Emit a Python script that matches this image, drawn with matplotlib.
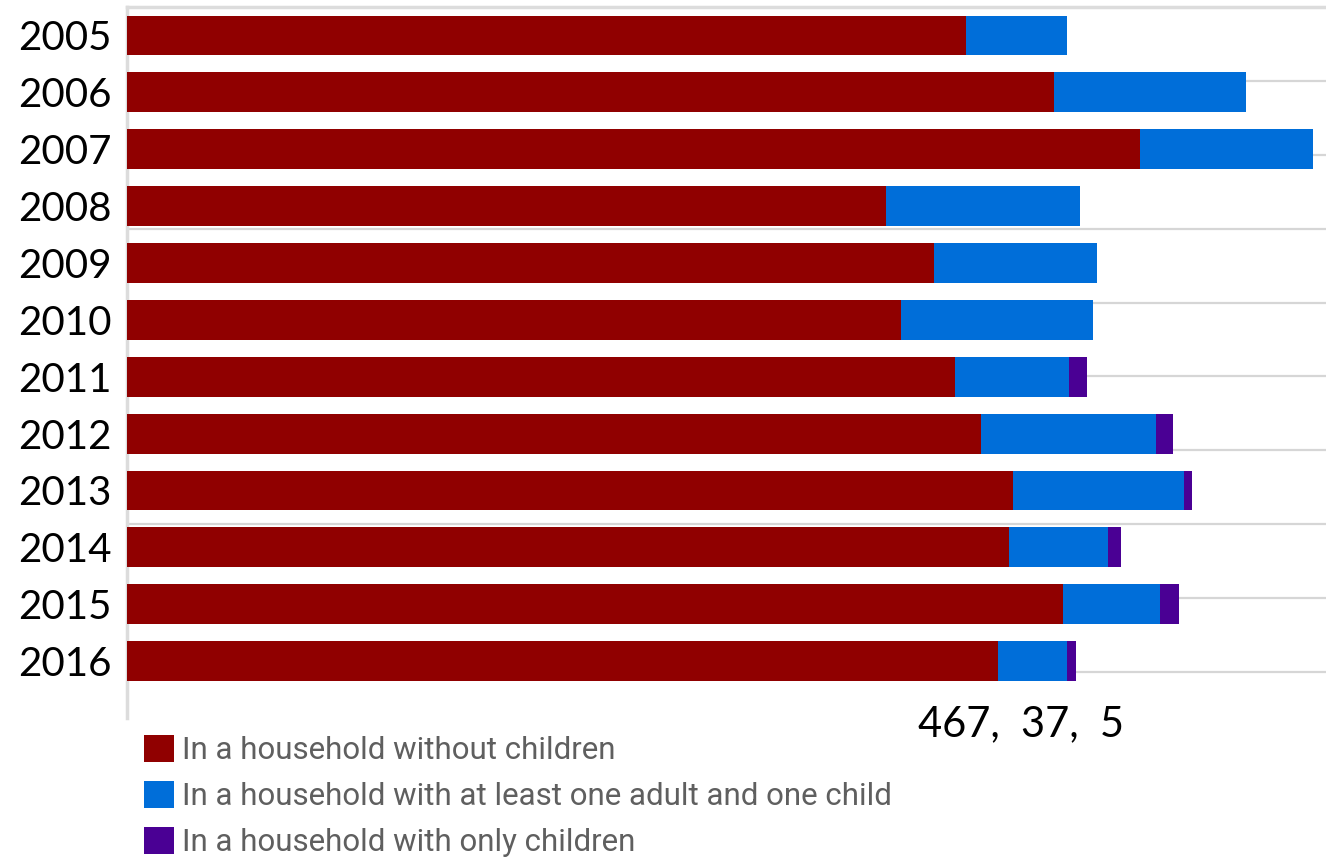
#!/usr/bin/env python3
"""Stacked horizontal bars: people by household type, 2005-2016."""

import matplotlib
matplotlib.use("Agg")
import matplotlib.pyplot as plt
import numpy as np

# ---------------------------------------------------------------------------
# Data
# ---------------------------------------------------------------------------

YEARS = ["2005", "2006", "2007", "2008", "2009", "2010",
         "2011", "2012", "2013", "2014", "2015", "2016"]

NO_CHILDREN = [450, 497, 543, 407, 433, 415, 444, 458, 475, 473, 502, 467]
ADULT_AND_CHILD = [54, 103, 93, 104, 87, 103, 61, 94, 92, 53, 52, 37]
ONLY_CHILDREN = [0, 0, 0, 0, 0, 0, 10, 9, 4, 7, 10, 5]

SERIES_LABELS = [
    "In a household without children",
    "In a household with at least one adult and one child",
    "In a household with only children",
]

COLORS = ["#900000", "#006ED9", "#4A0094"]

# ---------------------------------------------------------------------------
# Plot
# ---------------------------------------------------------------------------

fig = plt.figure(figsize=(13.26, 8.57), dpi=100)
ax = fig.add_axes([127 / 1326, 1 - 718 / 857, 1 - 127 / 1326, (718 - 7) / 857])

y = np.arange(len(YEARS))
left = np.zeros(len(YEARS))
handles = []
for vals, color, label in zip([NO_CHILDREN, ADULT_AND_CHILD, ONLY_CHILDREN], COLORS, SERIES_LABELS):
    bars = ax.barh(y, vals, left=left, height=0.7, color=color, label=label, zorder=3)
    handles.append(bars)
    left += np.array(vals)

ax.set_ylim(len(YEARS), -0.5)
ax.set_xlim(0, 643)

ax.set_yticks(y)
ax.set_yticklabels(YEARS, fontfamily="Lato", fontsize=29)
ax.tick_params(axis="y", length=0, pad=11)
ax.set_xticks([])

# light horizontal guide lines that sit behind the bars
ax.set_yticks(np.arange(1, 10) * 1.2988 - 0.5, minor=True)
ax.tick_params(axis="y", which="minor", length=0)
ax.grid(which="minor", axis="y", color="#d6d6d6", linewidth=1.6, zorder=0)
ax.set_axisbelow(True)

for side in ["right", "bottom"]:
    ax.spines[side].set_visible(False)
ax.spines["left"].set_color("#dcdcdc")
ax.spines["left"].set_linewidth(2.5)
ax.spines["top"].set_color("#dcdcdc")
ax.spines["top"].set_linewidth(2.5)

# values of the last year written under its bar
last = f"{NO_CHILDREN[-1]},  {ADULT_AND_CHILD[-1]},  {ONLY_CHILDREN[-1]}"
fig.text(918 / 1326, 1 - 724 / 857, last, fontfamily="Lato", fontsize=30,
         ha="left", va="center", color="black")

leg = fig.legend(handles=handles, labels=SERIES_LABELS, loc="upper left",
                 bbox_to_anchor=(144 / 1326, 1 - 735 / 857), frameon=False,
                 prop={"family": "Roboto", "size": 22.5}, handlelength=0.95,
                 handleheight=0.95, handletextpad=0.28, labelspacing=0.5,
                 borderpad=0, borderaxespad=0)
for t in leg.get_texts():
    t.set_color("#5f5f5f")

fig.savefig("out.png", dpi=100)
plt.close(fig)
